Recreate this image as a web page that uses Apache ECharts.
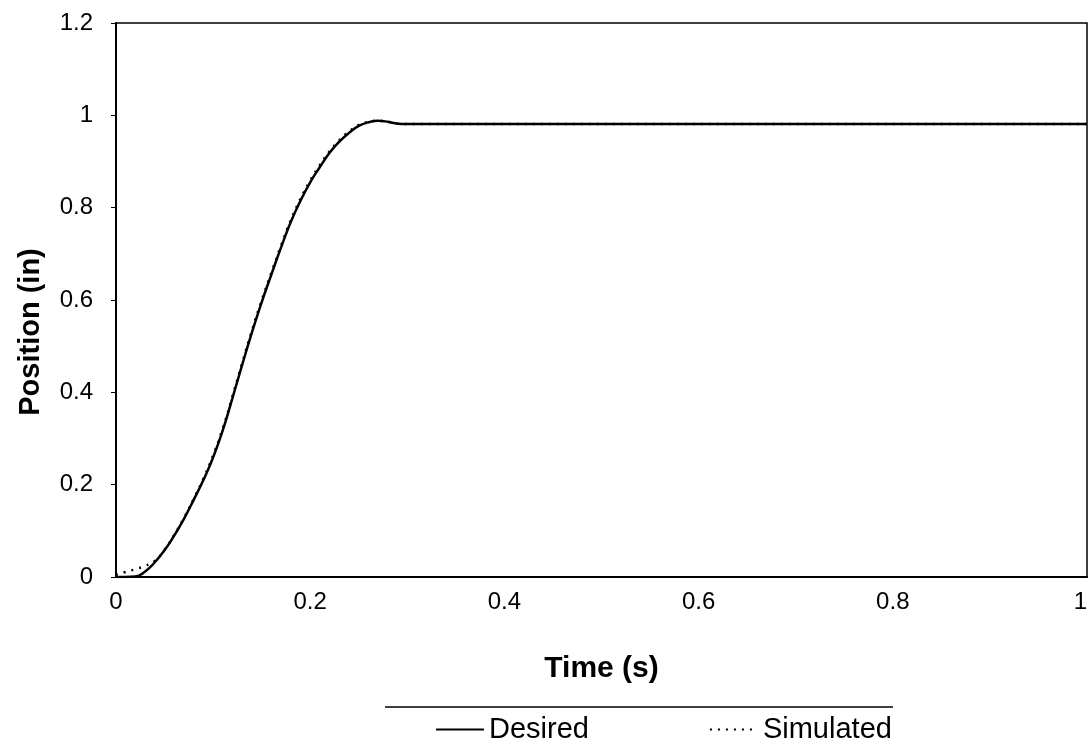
<!DOCTYPE html>
<html>
<head>
<meta charset="utf-8">
<script src="https://cdn.jsdelivr.net/npm/echarts@6/dist/echarts.min.js"></script>
<style>html,body{margin:0;padding:0;background:#fff;}#chart{width:1090px;height:753px;}</style>
</head>
<body>
<div id="chart"></div>
<script>
var timeS = [0, 0.01, 0.02, 0.03, 0.04, 0.05, 0.06, 0.07, 0.08, 0.09, 0.10, 0.11, 0.12, 0.13, 0.14, 0.15, 0.16, 0.17, 0.18, 0.19, 0.20, 0.21, 0.22, 0.23, 0.24, 0.25, 0.26, 0.27, 0.28, 0.29, 0.30, 1.00];
var desired = [0, 0, 0.001, 0.012, 0.032, 0.058, 0.090, 0.126, 0.167, 0.210, 0.259, 0.318, 0.388, 0.460, 0.530, 0.595, 0.655, 0.714, 0.769, 0.815, 0.855, 0.888, 0.919, 0.943, 0.962, 0.977, 0.985, 0.988, 0.986, 0.982, 0.981, 0.981];
var simulated = [0.005, 0.011, 0.017, 0.024, 0.035, 0.059, 0.091, 0.128, 0.169, 0.213, 0.263, 0.322, 0.392, 0.464, 0.534, 0.599, 0.659, 0.718, 0.773, 0.819, 0.859, 0.892, 0.922, 0.946, 0.965, 0.979, 0.986, 0.988, 0.986, 0.982, 0.981, 0.981];
var seriesNames = ['Desired', 'Simulated'];

function pairs(xs, ys) { return xs.map(function (x, i) { return [x, ys[i]]; }); }

var chart = echarts.init(document.getElementById('chart'));
var font = 'Liberation Sans, Arial, sans-serif';
chart.setOption({
  animation: false,
  backgroundColor: '#fff',
  grid: { left: 116, right: 3, top: 23, bottom: 176, show: true, borderColor: '#000', borderWidth: 1.5,
          outerBoundsMode: 'none', containLabel: false },
  xAxis: {
    type: 'value', min: 0, max: 1, interval: 0.2,
    name: 'Time (s)', nameLocation: 'middle', nameGap: 77,
    nameTextStyle: { fontFamily: font, fontWeight: 'bold', fontSize: 30, color: '#000' },
    axisLine: { show: true, lineStyle: { color: '#000', width: 2 } },
    axisTick: { show: false },
    splitLine: { show: false },
    axisLabel: { fontFamily: font, fontSize: 24, color: '#000', margin: 13, alignMaxLabel: 'right' }
  },
  yAxis: {
    type: 'value', min: 0, max: 1.2, interval: 0.2,
    name: 'Position (in)', nameLocation: 'middle', nameGap: 71,
    nameTextStyle: { fontFamily: font, fontWeight: 'bold', fontSize: 29, color: '#000', padding: [0, 64, 0, 0] },
    axisLine: { show: true, lineStyle: { color: '#000', width: 2 } },
    axisTick: { show: true, inside: false, length: 5, lineStyle: { color: '#000' } },
    splitLine: { show: false },
    axisLabel: { fontFamily: font, fontSize: 24, color: '#000', margin: 23,
      formatter: function (v) { return String(Math.round(v * 10) / 10); } }
  },
  legend: {
    top: 710, left: 430, itemGap: 120, itemWidth: 48, itemHeight: 24,
    itemStyle: { opacity: 0 },
    textStyle: { fontFamily: font, fontSize: 29, color: '#000', padding: [0, 0, 12, 0] },
    data: seriesNames
  },
  graphic: [{
    type: 'line', shape: { x1: 385, y1: 707, x2: 893, y2: 707 },
    style: { stroke: '#000', lineWidth: 1.5 }
  }],
  series: [
    { name: seriesNames[0], type: 'line', smooth: 0.5, symbol: 'none', data: pairs(timeS, desired),
      lineStyle: { color: '#000', width: 2.5, type: 'solid' }, itemStyle: { color: '#000' }, z: 3 },
    { name: seriesNames[1], type: 'line', smooth: 0.5, symbol: 'none', data: pairs(timeS, simulated),
      lineStyle: { color: '#000', width: 2.5, type: [2, 6] }, itemStyle: { color: '#000' }, z: 2 }
  ]
});
</script>
</body>
</html>
